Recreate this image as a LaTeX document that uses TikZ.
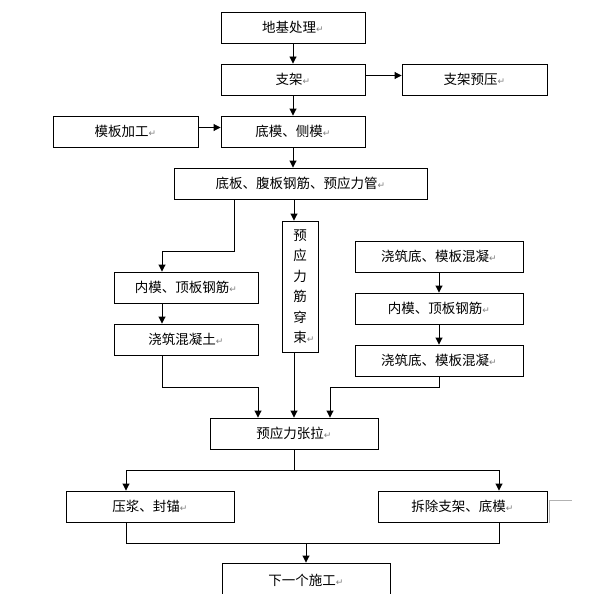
\documentclass[tikz,border=0pt]{standalone}
\usepackage{fontspec}
\setmainfont{Noto Sans CJK SC}
\newfontfamily\symfont{DejaVu Sans}
\usetikzlibrary{arrows.meta}

% paragraph mark after each text
\newcommand{\retmark}{{\color{gray}\symfont\fontsize{9}{9}\selectfont ↵}}

\tikzset{
  box/.style={draw, line width=0.9pt, minimum height=31pt, inner sep=0pt,
    font=\fontsize{13.5}{13.5}\selectfont},
  link/.style={line width=0.9pt},
  arr/.style={link, -{Triangle[length=7pt,width=7pt]}}
}

\begin{document}
\begin{tikzpicture}[x=1pt, y=-1pt]
    % Page frame
    \useasboundingbox (0,0) rectangle (592,594);
    \clip (0,0) rectangle (592,594);

    % Columns used by the connectors
    \coordinate (axis) at (294,0);
    \coordinate (gL) at (234,0);
    \coordinate (colL) at (162,0);
    \coordinate (inL) at (258,0);
    \coordinate (inR) at (330,0);
    \coordinate (outL) at (126,0);
    \coordinate (outR) at (499,0);
    \coordinate (mid) at (306,0);

    % Main column
    \node[box, minimum width=144pt] (jichu) at (293,27.5) {地基处理\retmark};
    \node[box, minimum width=144pt] (zhijia) at (293,79.5) {支架\retmark};
    \node[box, minimum width=145pt] (yuya) at (474.5,79.5) {支架预压\retmark};
    \node[box, minimum width=145pt] (jiagong) at (125.5,131.5) {模板加工\retmark};
    \node[box, minimum width=144pt] (cemo) at (293,131.5) {底模、侧模\retmark};
    \node[box, minimum width=253pt] (gangjin) at (300.5,183.5) {底板、腹板钢筋、预应力管\retmark};

    % Left branch
    \node[box, minimum width=144pt] (neimoL) at (186,287.5) {内模、顶板钢筋\retmark};
    \node[box, minimum width=144pt] (hntL) at (186,339.5) {浇筑混凝土\retmark};

    % Middle branch (vertical text)
    \node[box, minimum width=36pt, minimum height=131pt, align=center,
      font=\fontsize{13.5}{20.5}\selectfont] (chuanshu) at (300,286.5)
      {预\\应\\力\\筋\\穿\\束\rlap{\retmark}};

    % Right branch
    \node[box, minimum width=168pt] (jiaoR1) at (439,256.5) {浇筑底、模板混凝\retmark};
    \node[box, minimum width=168pt] (neimoR) at (439,308.5) {内模、顶板钢筋\retmark};
    \node[box, minimum width=168pt] (jiaoR2) at (439,360.5) {浇筑底、模板混凝\retmark};

    % Tensioning and after
    \node[box, minimum width=168pt] (zhangla) at (294,433.5) {预应力张拉\retmark};
    \node[box, minimum width=168pt] (yajiang) at (150,506.5) {压浆、封锚\retmark};
    \node[box, minimum width=169pt] (chaichu) at (462.5,506.5) {拆除支架、底模\retmark};
    \node[box, minimum width=168pt, minimum height=34pt] (xiayige) at (306,580) {下一个施工\retmark};

    % Connectors of the main column
    \draw[arr] (jichu.south) -- (zhijia.north);
    \draw[arr] (zhijia.south) -- (cemo.north);
    \draw[arr] ([yshift=4pt]zhijia.east) -- ([yshift=4pt]yuya.west);
    \draw[arr] ([yshift=4pt]jiagong.east) -- ([yshift=4pt]cemo.west);
    \draw[arr] (cemo.south) -- (cemo.south |- gangjin.north);

    % Split into the branches
    \draw[arr] (gangjin.south -| gL) -- ++(0,52) -| (colL |- neimoL.north);
    \draw[arr] (gangjin.south -| axis) -- (chuanshu.north -| axis);
    \draw[arr] (neimoL.south -| colL) -- (hntL.north -| colL);
    \draw[arr] (jiaoR1.south) -- (neimoR.north);
    \draw[arr] (neimoR.south) -- (jiaoR2.north);

    % Join at the tensioning
    \draw[arr] (hntL.south -| colL) -- ++(0,32) -| (inL |- zhangla.north);
    \draw[arr] (chuanshu.south -| axis) -- (zhangla.north -| axis);
    \draw[arr] (jiaoR2.south) -- ++(0,11) -| (inR |- zhangla.north);

    % Split after the tensioning
    \draw[link] (zhangla.south -| axis) -- ++(0,21) coordinate (fork);
    \draw[arr] (fork) -| (outL |- yajiang.north);
    \draw[arr] (fork) -| (outR |- chaichu.north);

    % Join into the last step
    \draw[link] (yajiang.south -| outL) -- ++(0,21) coordinate (joinL)
      -- (joinL -| outR) -- (chaichu.south -| outR);
    \draw[arr] (joinL -| mid) -- (xiayige.north -| mid);

    % Corner mark beside the right box
    \draw[gray!60, line width=0.6pt] (549,523) -- (549,500) -- (572,500);
\end{tikzpicture}
\end{document}
